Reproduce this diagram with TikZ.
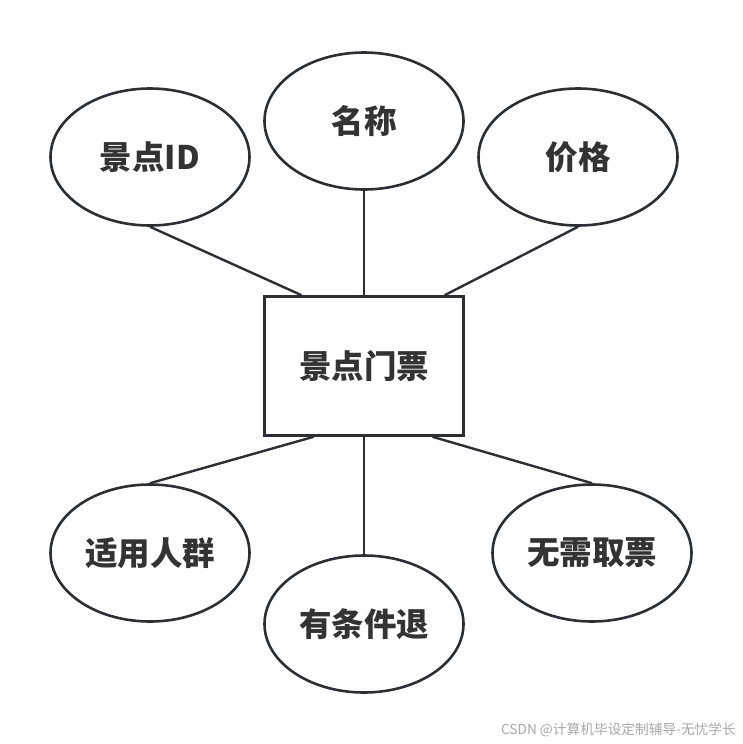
\documentclass[tikz,border=0pt]{standalone}
\usepackage{fontspec}
\setmainfont{Noto Sans CJK SC}
\usetikzlibrary{shapes.geometric,calc}
\definecolor{ink}{HTML}{2B2F33}
\definecolor{txt}{HTML}{333333}
\definecolor{wm}{HTML}{A8A8A8}
\begin{document}
\begin{tikzpicture}[x=1pt,y=-1pt,
  attr/.style={draw=ink,line width=2.6pt,ellipse,minimum width=199pt,minimum height=137pt,inner sep=0pt,font=\fontsize{32.5}{32}\selectfont\bfseries,text=txt},
  ent/.style={draw=ink,line width=2.6pt,rectangle,minimum width=199pt,minimum height=139pt,inner sep=0pt,font=\fontsize{32.5}{32}\selectfont\bfseries,text=txt},
  link/.style={draw=ink,line width=2.4pt}]
\useasboundingbox (0,0) rectangle (743,744);
\node[ent] (e) at (364,366) {景点门票};
\node[attr] (a1) at (150,157) {景点ID};
\node[attr] (a2) at (364,121) {名称};
\node[attr] (a3) at (578,157) {价格};
\node[attr] (a4) at (150,553) {适用人群};
\node[attr] (a5) at (364,624) {有条件退};
\node[attr] (a6) at (592,553) {无需取票};
\coordinate (t1) at ($(e.north west)!0.19!(e.north east)$);
\coordinate (t3) at ($(e.north west)!0.90!(e.north east)$);
\coordinate (b4) at ($(e.south west)!0.25!(e.south east)$);
\coordinate (b6) at ($(e.south west)!0.84!(e.south east)$);
\draw[link] (a1.south) -- (t1);
\draw[link] (a2.south) -- (e.north);
\draw[link] (a3.south) -- (t3);
\draw[link] (a4.north) -- (b4);
\draw[link] (a5.north) -- (e.south);
\draw[link] (a6.north) -- (b6);
\node[text=wm,font=\fontsize{13.7}{14}\selectfont,anchor=east,inner sep=0pt] (w) at (736,730) {CSDN @计算机毕设定制辅导-无忧学长};
\end{tikzpicture}
\end{document}
